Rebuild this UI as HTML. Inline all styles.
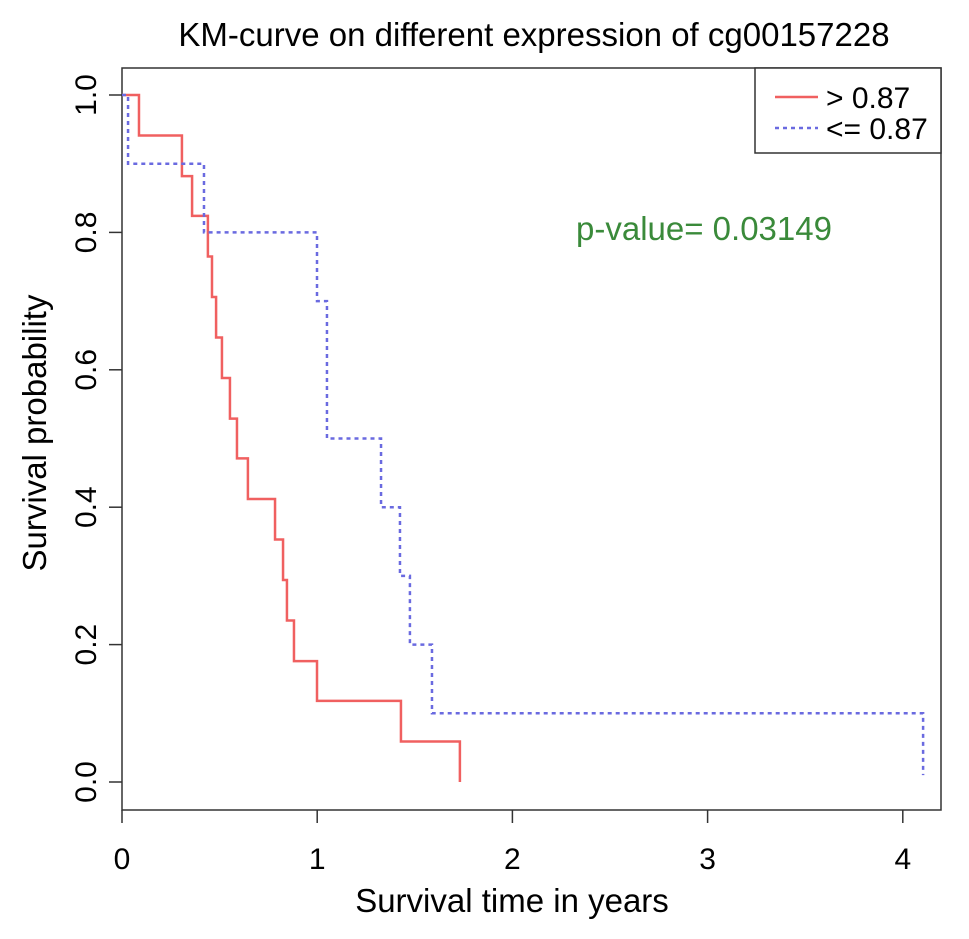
<!DOCTYPE html>
<html><head><meta charset="utf-8"><style>
html,body{margin:0;padding:0;background:#fff;}
svg{display:block;font-family:"Liberation Sans",Arial,sans-serif;}
</style></head><body>
<svg id="chart" width="969" height="939" viewBox="0 0 969 939" xmlns="http://www.w3.org/2000/svg">
<text x="534" y="46" font-size="33" text-anchor="middle" fill="#000">KM-curve on different expression of cg00157228</text>
<rect x="122" y="68" width="819" height="742" fill="none" stroke="#333" stroke-width="1.5"/>
<g id="axes"></g>
<g id="series"></g>
<text x="512" y="912" font-size="33" text-anchor="middle">Survival time in years</text>
<text transform="translate(46,433) rotate(-90)" font-size="33" text-anchor="middle">Survival probability</text>
<text x="576" y="240" font-size="33" fill="#3a8a3a">p-value= 0.03149</text>
<g>
<rect x="755" y="68" width="186" height="85" fill="#fff" stroke="#333" stroke-width="1.5"/>
<line x1="775" y1="97" x2="818" y2="97" stroke="#f06060" stroke-width="2.5"/>
<text x="826" y="108" font-size="30">&gt; 0.87</text>
<line x1="775" y1="128" x2="818" y2="128" stroke="#6a6ae0" stroke-width="2.5" stroke-dasharray="4,4"/>
<text x="826" y="139" font-size="30">&lt;= 0.87</text>
</g>
</svg>
<script>
const xTicks=[0,1,2,3,4];
const yTicks=[0.0,0.2,0.4,0.6,0.8,1.0];
const yTickLabels=["0.0","0.2","0.4","0.6","0.8","1.0"];
const highTimes=[0,0.087,0.307,0.359,0.44,0.461,0.482,0.512,0.553,0.589,0.645,0.784,0.825,0.845,0.881,0.999,1.429,1.731];
const highSurv=[1,0.941,0.882,0.824,0.765,0.706,0.647,0.588,0.529,0.471,0.412,0.353,0.294,0.235,0.176,0.118,0.059,0];
const lowTimes=[0,0.031,0.42,0.999,1.05,1.327,1.424,1.475,1.588,4.104];
const lowSurv=[1,0.9,0.8,0.7,0.5,0.4,0.3,0.2,0.1,0.01];
const NS="http://www.w3.org/2000/svg";
function xs(t){return 122+t*195.2;}
function ys(v){return 782-v*687;}
const axes=document.getElementById('axes');
function mk(tag,attrs,parent){const e=document.createElementNS(NS,tag);for(const k in attrs)e.setAttribute(k,attrs[k]);parent.appendChild(e);return e;}
xTicks.forEach(t=>{
  const l=mk('line',{x1:xs(t),x2:xs(t),y1:810,y2:823,stroke:'#333','stroke-width':1.5},axes);
  
  
  const tx=mk('text',{x:xs(t),y:869,'font-size':30,'text-anchor':'middle'},axes);
  tx.textContent=String(t);
  
  
});
yTicks.forEach((v,i)=>{
  const l=mk('line',{x1:109,x2:122,y1:ys(v),y2:ys(v),stroke:'#333','stroke-width':1.5},axes);
  
  
  const tx=mk('text',{transform:`translate(96,${ys(v)}) rotate(-90)`,'font-size':30,'text-anchor':'middle'},axes);
  tx.textContent=yTickLabels[i];
  
  
});
function stepPath(ts,ss){
  let d=`M${xs(ts[0])},${ys(ss[0])}`;
  for(let i=1;i<ts.length;i++){d+=` H${xs(ts[i])} V${ys(ss[i])}`;}
  return d;
}
const g=document.getElementById('series');
const p1=mk('path',{d:stepPath(highTimes,highSurv),fill:'none',stroke:'#f06060','stroke-width':2.5},g);


const p2=mk('path',{d:stepPath(lowTimes,lowSurv),fill:'none',stroke:'#6a6ae0','stroke-width':2.5,'stroke-dasharray':'4,4'},g);


</script>
</body></html>
